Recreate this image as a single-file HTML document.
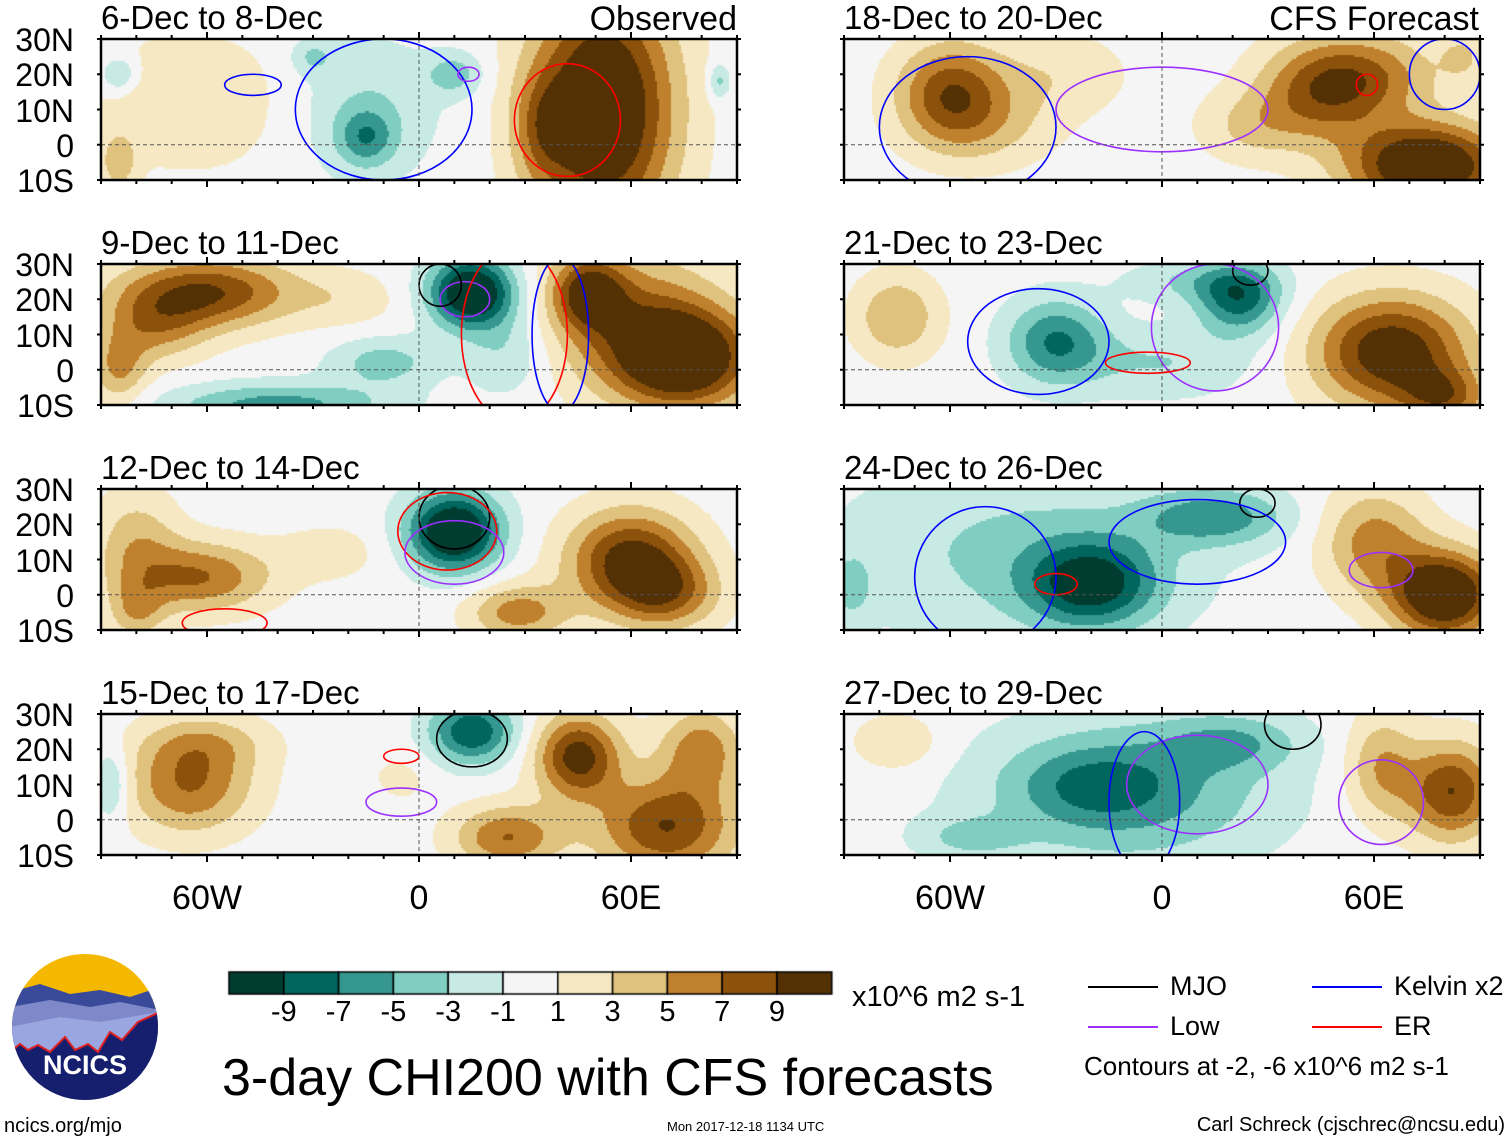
<!DOCTYPE html>
<html><head><meta charset="utf-8"><style>
body{margin:0;background:#fff;width:1510px;height:1142px;overflow:hidden;position:relative;font-family:"Liberation Sans",Arial,sans-serif;color:#000}
.t{position:absolute;white-space:nowrap;line-height:1}
canvas{position:absolute}
svg{position:absolute;left:0;top:0}
</style></head><body>
<canvas id="cv" width="1510" height="1142" style="left:0;top:0"></canvas>
<svg id="ov" width="1510" height="1142"></svg>
<div id="txt"></div>
<script>
// ---- data ----
const panelTitles=["6-Dec to 8-Dec","9-Dec to 11-Dec","12-Dec to 14-Dec","15-Dec to 17-Dec","18-Dec to 20-Dec","21-Dec to 23-Dec","24-Dec to 26-Dec","27-Dec to 29-Dec"];
const latTicks=["30N","20N","10N","0","10S"];
const latValues=[30,20,10,0,-10];
const lonTicks=["60W","0","60E"];
const lonValues=[-60,0,60];
const cbLevels=[-9,-7,-5,-3,-1,1,3,5,7,9];
const cbColors=["#003c30","#01665e","#35978f","#80cdc1","#c7eae5","#f5f5f5","#f6e8c3","#dfc27d","#bf812d","#8c510a","#543005"];
// anomaly centres per panel: [lon, lat, amplitude, rxDeg, ryDeg]
const blobs0=[[-65,12,2.5,30,20],[-15,10,-3,20,20],[-15,2,-5,8,8],[52,10,13,20,35],[35,5,4,8,15],[10,20,-4,8,6],[-30,25,-3,6,5],[-85,20,-4,5,5],[85,18,-4,3,5],[-85,-5,4,5,8]];
const blobs1=[[-60,22,9,25,10],[-75,12,5,15,10],[-85,0,5,8,10],[15,22,-13,12,10],[-40,-10,-6,30,6],[-10,2,-4,15,7],[75,3,12,20,14],[48,22,8,10,10],[60,15,6,25,20],[25,5,-3,12,12],[-20,20,2,15,8]];
const blobs2=[[10,18,-13,13,11],[-62,5,7,20,10],[-80,15,4,12,15],[60,10,10,18,14],[28,-5,6,14,8],[-25,12,2,15,8],[-80,-5,4,8,8],[70,0,6,15,10]];
const blobs3=[[15,25,-9,12,9],[-65,10,7,18,14],[45,18,10,12,12],[70,-2,9,20,14],[25,-5,7,15,9],[-87,10,-4,5,10],[80,20,6,12,12],[-60,22,3,18,8],[-5,12,1.5,10,8]];
const blobs4=[[-60,15,8,15,14],[-50,5,3,20,12],[75,-6,13,22,12],[45,15,7,18,14],[-30,20,2.5,20,12],[85,25,3,6,6],[25,5,3,15,10],[60,20,5,20,12]];
const blobs5=[[22,20,-8,12,10],[-30,8,-7,14,12],[65,5,11,22,16],[-75,15,5,12,12],[0,2,-3,25,10],[80,-8,6,12,8],[10,25,-3,20,6]];
const blobs6=[[-40,12,-3.5,50,25],[-20,3,-9,18,12],[15,22,-6,20,8],[80,0,13,15,12],[60,15,6,15,15],[-88,2,-3,6,10]];
const blobs7=[[-10,8,-6,40,20],[-20,10,-3,20,10],[20,22,-4,20,8],[82,8,9,13,14],[62,15,5,10,15],[-75,22,3,12,8],[-55,-5,-3,15,6]];
const panelBlobs=[blobs0,blobs1,blobs2,blobs3,blobs4,blobs5,blobs6,blobs7];
// contour overlays per panel: [colorKey, lon, lat, rxDeg, ryDeg]  (m=MJO, b=Kelvin, l=Low, e=ER)
const contours0=[["b",-47,17,8,3],["b",-10,10,25,20],["e",42,7,15,16],["l",14,20,3,2]];
const contours1=[["l",13,20,7,5],["m",6,24,6,6],["e",27,10,15,25],["b",40,10,8,22]];
const contours2=[["m",10,22,10,9],["e",8,18,14,11],["l",10,12,14,9],["e",-55,-8,12,4]];
const contours3=[["m",15,23,10,8],["e",-5,18,5,2],["l",-5,5,10,4]];
const contours4=[["b",-55,5,25,20],["l",0,10,30,12],["b",80,20,10,10],["e",58,17,3,3]];
const contours5=[["m",25,28,5,4],["l",15,12,18,18],["e",-4,2,12,3],["b",-35,8,20,15]];
const contours6=[["m",27,26,5,4],["b",-50,5,20,20],["e",-30,3,6,3],["l",62,7,9,5],["b",10,15,25,12]];
const contours7=[["m",37,27,8,7],["l",10,10,20,14],["b",-5,5,10,20],["l",62,5,12,12]];
const panelContours=[contours0,contours1,contours2,contours3,contours4,contours5,contours6,contours7];

// ---- layout ----
const colX=[101,844], rowY=[39,264,489,714], PW=636, PH=141;
const lonScale=d=>(d+90)/180*PW;
const latScale=d=>(30-d)/40*PH;
function colorFor(v){let i=0;while(i<cbLevels.length&&v>cbLevels[i])i++;return cbColors[i];}
const cv=document.getElementById('cv'),ctx=cv.getContext('2d');
const ov=document.getElementById('ov'),txt=document.getElementById('txt');
const NS='http://www.w3.org/2000/svg';
const lineCols={m:"#000",l:"#9b30ff",e:"#ff0000",b:"#0000ff"};
function addText(s,x,y,size,name,align){const d=document.createElement('div');d.className='t';d.textContent=s;d.style.fontSize=size+'px';d.style.top=y+'px';
 if(align==='r'){d.style.right=(1510-x)+'px';}else if(align==='c'){d.style.left=x+'px';d.style.transform='translateX(-50%)';}else d.style.left=x+'px';
 
 
 txt.appendChild(d);}
panelTitles.forEach((title,p)=>{
 const c=p<4?0:1,r=p%4,x0=colX[c],y0=rowY[r];
 const bl=panelBlobs[p],step=2;
 for(let px=0;px<PW;px+=step)for(let py=0;py<PH;py+=step){
  const lon=(px+1)/PW*180-90,lat=30-(py+1)/PH*40;let v=0;
  bl.forEach(b=>{const dx=(lon-b[0])/b[3],dy=(lat-b[1])/b[4];v+=b[2]*Math.exp(-(dx*dx+dy*dy));});
  ctx.fillStyle=colorFor(v);ctx.fillRect(x0+px,y0+py,step,step);}
 const g=document.createElementNS(NS,'g');
 
 
 ov.appendChild(g);
 const cp=document.createElementNS(NS,'clipPath');cp.id='cp'+p;const cr=document.createElementNS(NS,'rect');
 cr.setAttribute('x',x0);cr.setAttribute('y',y0);cr.setAttribute('width',PW);cr.setAttribute('height',PH);cp.appendChild(cr);g.appendChild(cp);
 panelContours[p].forEach(k=>{const e=document.createElementNS(NS,'ellipse');
  e.setAttribute('cx',x0+lonScale(k[1]));e.setAttribute('cy',y0+latScale(k[2]));
  e.setAttribute('rx',k[3]/180*PW);e.setAttribute('ry',k[4]/40*PH);
  e.setAttribute('fill','none');e.setAttribute('stroke',lineCols[k[0]]);e.setAttribute('stroke-width','1.6');
  e.setAttribute('clip-path','url(#cp'+p+')');
  
  
  g.appendChild(e);});
 const eq=document.createElementNS(NS,'line');eq.setAttribute('x1',x0);eq.setAttribute('x2',x0+PW);eq.setAttribute('y1',y0+latScale(0));eq.setAttribute('y2',y0+latScale(0));
 eq.setAttribute('stroke','#555');eq.setAttribute('stroke-dasharray','4 3');
 
 
 g.appendChild(eq);
 const pm=document.createElementNS(NS,'line');pm.setAttribute('x1',x0+lonScale(0));pm.setAttribute('x2',x0+lonScale(0));pm.setAttribute('y1',y0);pm.setAttribute('y2',y0+PH);
 pm.setAttribute('stroke','#555');pm.setAttribute('stroke-dasharray','4 3');
 
 
 g.appendChild(pm);
 const fr=document.createElementNS(NS,'rect');fr.setAttribute('x',x0);fr.setAttribute('y',y0);fr.setAttribute('width',PW);fr.setAttribute('height',PH);
 fr.setAttribute('fill','none');fr.setAttribute('stroke','#000');fr.setAttribute('stroke-width','2.5');
 
 
 g.appendChild(fr);
 let d='';
 for(let lo=-90;lo<=90;lo+=10){const x=x0+lonScale(lo),L=(lo%60===0)?7:4;d+=`M${x},${y0}v${-L}M${x},${y0+PH}v${L}`;}
 for(let la=-10;la<=30;la+=10){const y=y0+latScale(la);d+=`M${x0},${y}h-4M${x0+PW},${y}h4`;}
 const tk=document.createElementNS(NS,'path');tk.setAttribute('d',d);tk.setAttribute('stroke','#000');tk.setAttribute('stroke-width','2');
 
 
 g.appendChild(tk);
 addText(title,x0,y0-38,33,'panel-title','l');
 if(c===0)latTicks.forEach((s,i)=>addText(s,74,y0+latScale(latValues[i])-15,32,'lat-label','r'));
 if(r===3)lonTicks.forEach((s,i)=>addText(s,x0+lonScale(lonValues[i]),y0+PH+26,34,'lon-label','c'));
});
addText("Observed",737,2,34,'observed-label','r');
addText("CFS Forecast",1479,2,34,'forecast-label','r');
// colorbar
cbColors.forEach((col,i)=>{const x=229+i*54.8;ctx.fillStyle=col;ctx.fillRect(x,972,54.8,22);ctx.strokeStyle='#000';ctx.lineWidth=1.5;ctx.strokeRect(x,972,54.8,22);});
cbLevels.forEach((v,i)=>addText(String(v),229+(i+1)*54.8,998,29,'colorbar-label','c'));
addText("x10^6 m2 s-1",852,983,29,'colorbar-units','l');
addText("3-day CHI200 with CFS forecasts",222,1052,52,'chart-title','l');
addText("ncics.org/mjo",4,1116,20,'ncics-url','l');
addText("Mon 2017-12-18 1134 UTC",667,1120,13,'timestamp','l');
addText("Carl Schreck (cjschrec@ncsu.edu)",1505,1115,20,'author-credit','r');
// legend
const leg=[["MJO","#000",1088,976],["Kelvin x2","#0000ff",1312,976],["Low","#9b30ff",1088,1016],["ER","#ff0000",1312,1016]];
leg.forEach(l=>{const ln=document.createElementNS(NS,'line');ln.setAttribute('x1',l[2]);ln.setAttribute('x2',l[2]+70);ln.setAttribute('y1',l[3]+11);ln.setAttribute('y2',l[3]+11);
 ln.setAttribute('stroke',l[1]);ln.setAttribute('stroke-width','2');
 
 
 ov.appendChild(ln);addText(l[0],l[2]+82,l[3]-3,27,'legend-entry','l');});
addText("Contours at -2, -6 x10^6 m2 s-1",1084,1053,26,'contour-note','l');
</script>
<svg width="150" height="150" style="left:10px;top:952px" viewBox="0 0 150 150">
<defs><clipPath id="lc"><circle cx="75" cy="75" r="73"/></clipPath></defs>
<g clip-path="url(#lc)">
<rect width="150" height="150" fill="#f5b800"/>
<path d="M0,40 L30,32 60,42 90,38 120,45 150,35 V150 H0Z" fill="#3a4a9a"/>
<path d="M0,55 L40,48 80,55 110,50 150,58 V150 H0Z" fill="#7f89c9"/>
<path d="M0,75 L50,65 90,70 150,60 V150 H0Z" fill="#9aa6e0"/>
<path d="M0,100 L10,92 18,98 28,93 40,100 55,85 65,98 78,92 88,100 100,80 112,88 128,70 150,60 V150 H0Z" fill="#151f6e" stroke="#e02020" stroke-width="2"/>
</g>
<text x="75" y="122" font-size="27" font-weight="bold" fill="#fff" text-anchor="middle" font-family="Liberation Sans">NCICS</text>
</svg>
</body></html>
